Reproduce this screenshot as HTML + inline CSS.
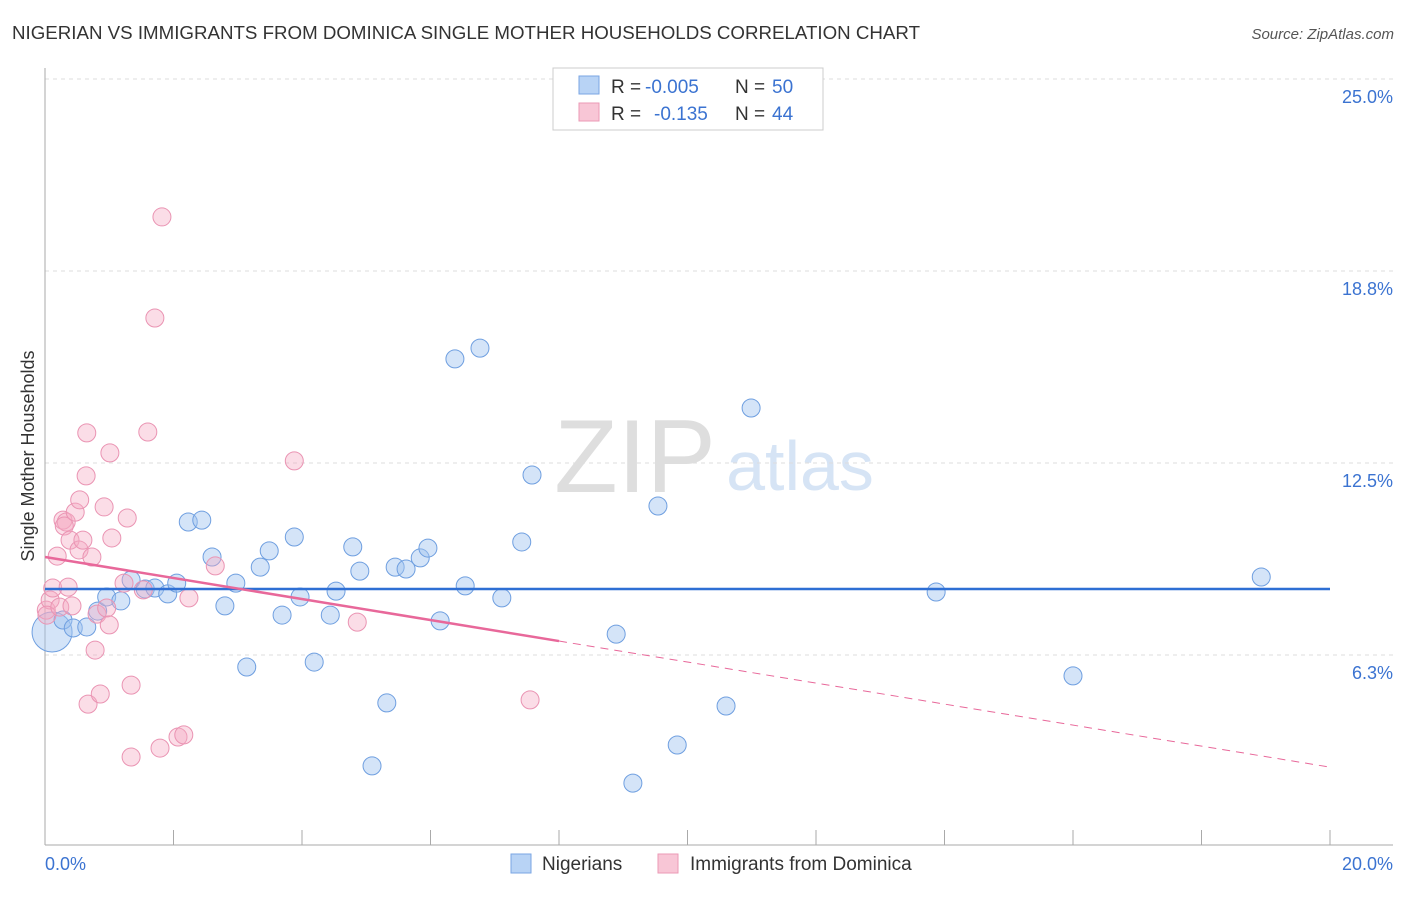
<!DOCTYPE html>
<html><head><meta charset="utf-8"><style>
body{margin:0;background:#fff;font-family:"Liberation Sans",sans-serif}
svg text{font-family:"Liberation Sans",sans-serif}
</style></head><body>
<svg id="chart" width="1406" height="892">
<text x="12" y="39" font-size="18" fill="#333" textLength="908" lengthAdjust="spacingAndGlyphs">NIGERIAN VS IMMIGRANTS FROM DOMINICA SINGLE MOTHER HOUSEHOLDS CORRELATION CHART</text>
<text x="1394" y="39" font-size="15" fill="#555" font-style="italic" text-anchor="end">Source: ZipAtlas.com</text>
<text x="635" y="492" font-size="104" fill="#dedede" font-family="Liberation Serif" text-anchor="middle">ZIP</text>
<text x="800" y="490" font-size="70" fill="#d6e4f5" text-anchor="middle">atlas</text>
<g id="grid"></g><g id="axes"></g><g id="marks"></g>
<text transform="translate(34,456) rotate(-90)" font-size="18" fill="#333" text-anchor="middle">Single Mother Households</text>
<text x="45" y="870" font-size="18" fill="#3b73d1">0.0%</text>
<text x="1393" y="870" font-size="18" fill="#3b73d1" text-anchor="end">20.0%</text>
<g>
<rect x="553" y="68" width="270" height="62" fill="#fff" stroke="#ccc"/>
<rect x="579" y="76" width="20" height="18" fill="#b8d3f5" stroke="#7aa6e3"/>
<rect x="579" y="103" width="20" height="18" fill="#f8c6d6" stroke="#eb9ab6"/>
<text x="611" y="93" font-size="19" fill="#333">R =</text>
<text x="645" y="93" font-size="19" fill="#3b73d1">-0.005</text>
<text x="735" y="93" font-size="19" fill="#333">N =</text>
<text x="772" y="93" font-size="19" fill="#3b73d1">50</text>
<text x="611" y="120" font-size="19" fill="#333">R =</text>
<text x="654" y="120" font-size="19" fill="#3b73d1">-0.135</text>
<text x="735" y="120" font-size="19" fill="#333">N =</text>
<text x="772" y="120" font-size="19" fill="#3b73d1">44</text>
</g>
<g>
<rect x="511" y="854" width="20" height="19" fill="#b8d3f5" stroke="#7aa6e3"/>
<text x="542" y="870" font-size="19" fill="#333">Nigerians</text>
<rect x="658" y="854" width="20" height="19" fill="#f8c6d6" stroke="#eb9ab6"/>
<text x="690" y="870" font-size="19" fill="#333">Immigrants from Dominica</text>
</g>
</svg>
<script>
const yTicks=[6.25,12.5,18.75,25];
const yTickLabels=["6.3%","12.5%","18.8%","25.0%"];
const nigX=[0.11,0.28,0.44,0.65,0.82,0.96,1.18,1.34,1.56,1.71,1.91,2.05,2.23,2.44,2.60,2.80,2.97,3.14,3.35,3.49,3.69,3.88,3.97,4.19,4.44,4.53,4.79,4.90,5.09,5.32,5.45,5.62,5.84,5.96,6.15,6.38,6.54,6.77,7.11,7.42,7.58,8.89,9.15,9.54,9.84,10.60,10.99,13.87,16.00,18.93];
const nigY=[7.00,7.39,7.13,7.16,7.68,8.14,8.01,8.69,8.40,8.43,8.24,8.59,10.58,10.64,9.44,7.85,8.59,5.86,9.11,9.64,7.55,10.09,8.14,6.02,7.55,8.33,9.77,8.98,2.64,4.69,9.11,9.05,9.41,9.73,7.36,15.89,8.50,16.24,8.11,9.93,12.11,6.93,2.08,11.10,3.32,4.59,14.29,8.30,5.57,8.79];
const domX=[0.02,0.08,0.12,0.03,0.19,0.23,0.28,0.33,0.30,0.36,0.42,0.39,0.47,0.53,0.54,0.59,0.64,0.65,0.67,0.73,0.78,0.81,0.86,0.92,0.96,1.00,1.01,1.04,1.23,1.28,1.34,1.34,1.53,1.60,1.71,1.79,1.82,2.07,2.16,2.24,2.65,3.88,4.86,7.55];
const domY=[7.71,8.04,8.43,7.55,9.47,7.81,10.64,10.58,10.45,8.46,7.85,9.99,10.90,9.67,11.30,9.99,12.08,13.48,4.65,9.44,6.41,7.58,4.98,11.07,7.78,7.23,12.83,10.06,8.59,10.71,2.93,5.27,8.37,13.51,17.22,3.22,20.51,3.58,3.65,8.11,9.15,12.57,7.32,4.79];
const nigTrend=[8.40,8.40];
const domTrend=[9.44,2.60];
const domSolidEnd=8.0;
const NS="http://www.w3.org/2000/svg";
const X=v=>45+v/20*1285, Y=v=>847-v/25*768;
function mk(parent,tag,attrs){const e=document.createElementNS(NS,tag);for(const k in attrs)e.setAttribute(k,attrs[k]);document.getElementById(parent).appendChild(e);return e;}
yTicks.forEach((t,i)=>{
 const l=mk('grid','line',{x1:45,x2:1393,y1:Y(t),y2:Y(t),stroke:'#ddd','stroke-dasharray':'4,4'});
 
 
 const tx=mk('grid','text',{x:1393,y:Y(t)+24,'font-size':18,fill:'#3b73d1','text-anchor':'end'});
 tx.textContent=yTickLabels[i];
 
 
});
let a=mk('axes','line',{x1:45,x2:45,y1:68,y2:845,stroke:'#aaa'});


a=mk('axes','line',{x1:45,x2:1393,y1:845,y2:845,stroke:'#aaa'});


for(let i=1;i<=10;i++){const t=mk('axes','line',{x1:X(i*2),x2:X(i*2),y1:830,y2:845,stroke:'#aaa'});
 
 }
nigX.forEach((x,i)=>{const c=mk('marks','circle',{cx:X(x),cy:Y(nigY[i]),r:i===0?20:9,fill:'rgba(160,196,240,0.45)',stroke:'#6f9fe0','stroke-width':1});
 
 });
domX.forEach((x,i)=>{const c=mk('marks','circle',{cx:X(x),cy:Y(domY[i]),r:9,fill:'rgba(245,170,195,0.4)',stroke:'#ea94b3','stroke-width':1});
 
 });
const dy=x=>domTrend[0]+(domTrend[1]-domTrend[0])*x/20;
let l=mk('marks','line',{x1:X(0),x2:X(20),y1:Y(nigTrend[0]),y2:Y(nigTrend[1]),stroke:'#2e6fd4','stroke-width':2.5});


l=mk('marks','line',{x1:X(0),x2:X(domSolidEnd),y1:Y(dy(0)),y2:Y(dy(domSolidEnd)),stroke:'#e8689a','stroke-width':2.5});


l=mk('marks','line',{x1:X(domSolidEnd),x2:X(20),y1:Y(dy(domSolidEnd)),y2:Y(dy(20)),stroke:'#e8689a','stroke-width':1,'stroke-dasharray':'8,6'});


</script>
</body></html>
